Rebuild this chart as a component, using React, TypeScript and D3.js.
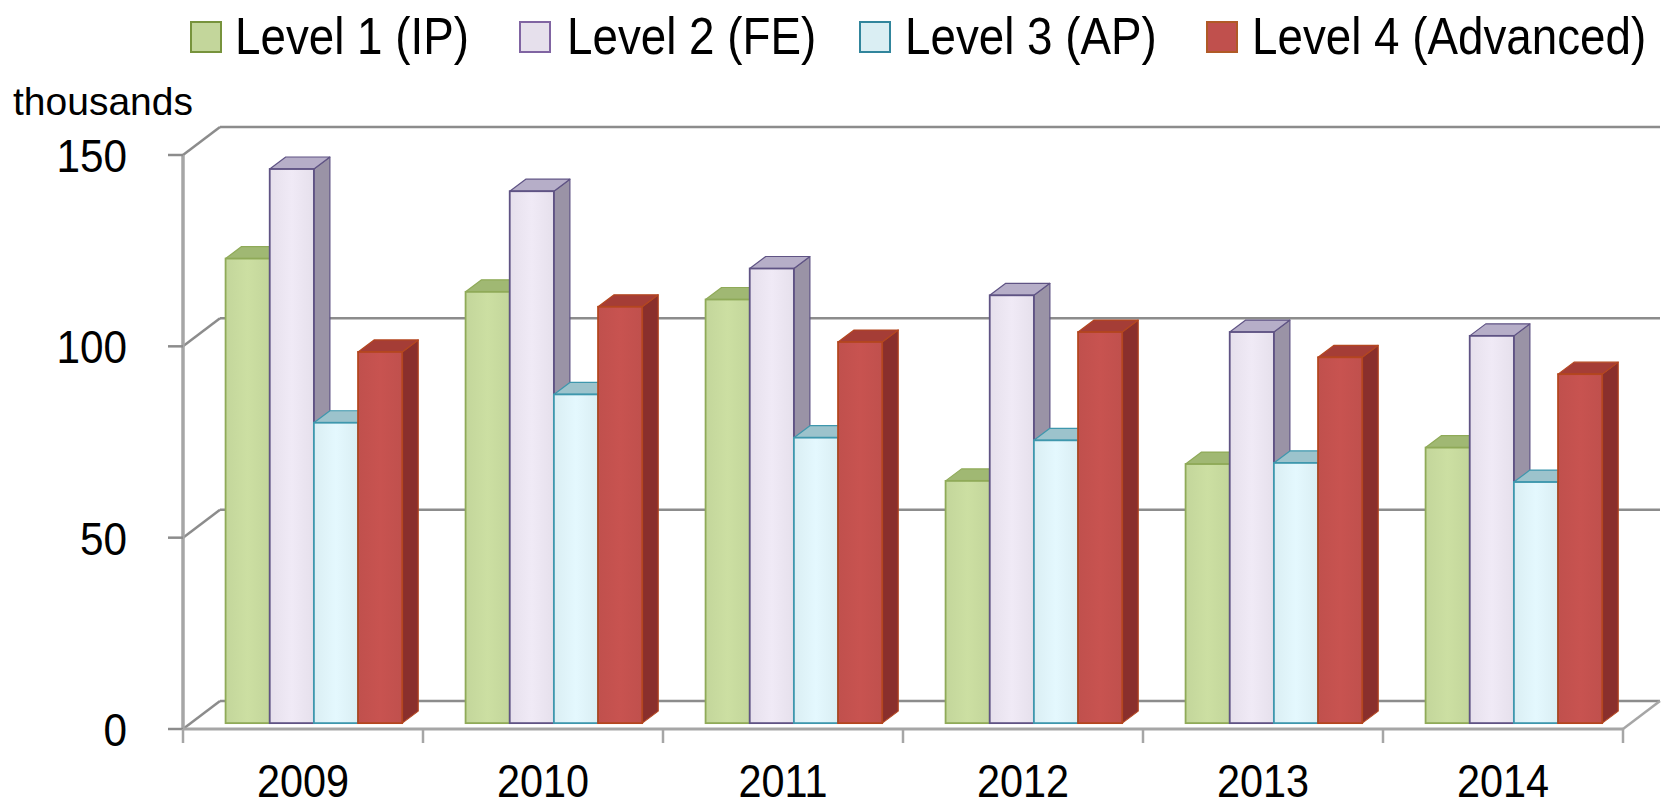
import React from 'react';
import * as d3 from 'd3';

const years = ['2009', '2010', '2011', '2012', '2013', '2014'];
const seriesNames = ['Level 1 (IP)', 'Level 2 (FE)', 'Level 3 (AP)', 'Level 4 (Advanced)'];
const level1 = [121.4, 112.7, 110.7, 63.3, 67.7, 72.0];
const level2 = [144.8, 139.0, 118.8, 111.8, 102.2, 101.2];
const level3 = [78.5, 85.9, 74.6, 73.9, 68.0, 63.0];
const level4 = [97.0, 108.8, 99.6, 102.2, 95.6, 91.2];
const yTicks = [0, 50, 100, 150];
const unitLabel = 'thousands';

const seriesValues = [level1, level2, level3, level4];

const palette = [
  { face: '#c3d69b', stroke: '#8faa58', top: '#a0b873', side: '#8ea25e', lStroke: '#77933c' },
  { face: '#e6e0ec', stroke: '#5f5384', top: '#b6aec8', side: '#9a93a6', lStroke: '#8064a2' },
  { face: '#daeef3', stroke: '#3e97ad', top: '#9cc3cc', side: '#8fb9c3', lStroke: '#31859c' },
  { face: '#c0504d', stroke: '#b4461f', top: '#a53d36', side: '#8a2f2c', lStroke: '#b05a26' },
];

const W = 1663;
const H = 807;
const FONT = '"Liberation Sans", Arial, sans-serif';

export default function App() {
  const xFront0 = 183;
  const xFront1 = 1623;
  const wallDx = 37;
  const wallDy = -28;
  const barF = 0.21;
  const barDx = 16;
  const barDy = -12;

  const y = d3.scaleLinear().domain([0, 150]).range([729, 155]);
  const x = d3.scaleBand<string>().domain(years).range([xFront0, xFront1]).padding(0);
  const bw = x.bandwidth();
  const barW = bw * 0.184;
  const groupOff = bw * 0.145;
  const bShiftX = barF * wallDx;
  const bShiftY = barF * wallDy;

  const gridColor = '#8c8c8c';
  const axisColor = '#a6a6a6';

  const legendSq = [191, 520, 860, 1207];
  const legendTx = [235, 567, 905, 1252];

  const bars: JSX.Element[] = [];
  years.forEach((yr, gi) => {
    seriesValues.forEach((vals, si) => {
      const v = vals[gi];
      const c = palette[si];
      const bx = (x(yr) as number) + bShiftX + groupOff + si * barW;
      const yb = y(0) + bShiftY;
      const yt = y(v) + bShiftY;
      const top = `${bx},${yt} ${bx + barDx},${yt + barDy} ${bx + barW + barDx},${yt + barDy} ${bx + barW},${yt}`;
      const side = `${bx + barW},${yt} ${bx + barW + barDx},${yt + barDy} ${bx + barW + barDx},${yb + barDy} ${bx + barW},${yb}`;
      bars.push(
        <g key={`${gi}-${si}`}>
          <polygon points={side} fill={c.side} stroke={c.stroke} strokeWidth={1.2} strokeLinejoin="round" />
          <polygon points={top} fill={c.top} stroke={c.stroke} strokeWidth={1.2} strokeLinejoin="round" />
          <rect x={bx} y={yt} width={barW} height={yb - yt} fill={`url(#grad${si})`} stroke={c.stroke} strokeWidth={1.8} />
        </g>
      );
    });
  });

  return (
    <svg width={W} height={H} style={{ position: 'absolute', left: 0, top: 0, background: '#fff' }}>
      <defs>
        {palette.map((c, i) => (
          <linearGradient key={i} id={`grad${i}`} x1="0" x2="1" y1="0" y2="0">
            <stop offset="0" stopColor={c.face} />
            <stop offset="0.5" stopColor={d3.color(c.face)!.brighter(0.12).formatHex()} />
            <stop offset="1" stopColor={c.face} />
          </linearGradient>
        ))}
      </defs>
      <rect x={0} y={0} width={W} height={H} fill="#fff" />

      {/* back wall gridlines and side diagonals */}
      {yTicks.map((t) => (
        <g key={`g${t}`}>
          <line x1={xFront0 + wallDx} x2={xFront1 + wallDx} y1={y(t) + wallDy} y2={y(t) + wallDy} stroke={gridColor} strokeWidth={2.5} />
          <line x1={xFront0} x2={xFront0 + wallDx} y1={y(t)} y2={y(t) + wallDy} stroke={gridColor} strokeWidth={2.5} />
        </g>
      ))}
      {/* floor right edge */}
      <line x1={xFront1} x2={xFront1 + wallDx} y1={y(0)} y2={y(0) + wallDy} stroke={axisColor} strokeWidth={2.5} />

      {bars}

      {/* front axes */}
      <line x1={xFront0} x2={xFront1} y1={y(0)} y2={y(0)} stroke={axisColor} strokeWidth={3} />
      <line x1={xFront0} x2={xFront0} y1={y(150)} y2={y(0)} stroke={axisColor} strokeWidth={3.5} />
      {yTicks.map((t) => (
        <line key={`yt${t}`} x1={168} x2={xFront0} y1={y(t)} y2={y(t)} stroke={gridColor} strokeWidth={2.5} />
      ))}
      {d3.range(years.length + 1).map((i) => (
        <line key={`xt${i}`} x1={xFront0 + i * bw} x2={xFront0 + i * bw} y1={y(0)} y2={743} stroke={axisColor} strokeWidth={2.5} />
      ))}

      {/* y tick labels */}
      {yTicks.map((t) => (
        <text key={`yl${t}`} transform={`translate(127,${y(t) + 17}) scale(0.9,1)`} textAnchor="end" fontFamily={FONT} fontSize={47} fill="#000">
          {t}
        </text>
      ))}
      {/* x labels */}
      {years.map((yr) => (
        <text key={`xl${yr}`} transform={`translate(${(x(yr) as number) + bw / 2},797) scale(0.9,1)`} textAnchor="middle" fontFamily={FONT} fontSize={46} fill="#000">
          {yr}
        </text>
      ))}
      <text x={13} y={115} fontFamily={FONT} fontSize={39} fill="#000">{unitLabel}</text>

      {/* legend */}
      {seriesNames.map((n, i) => (
        <g key={`lg${i}`}>
          <rect x={legendSq[i]} y={22} width={30} height={30} fill={palette[i].face} stroke={palette[i].lStroke} strokeWidth={2} />
          <text transform={`translate(${legendTx[i]},54) scale(0.88,1)`} fontFamily={FONT} fontSize={52} fill="#000">{n}</text>
        </g>
      ))}
    </svg>
  );
}
